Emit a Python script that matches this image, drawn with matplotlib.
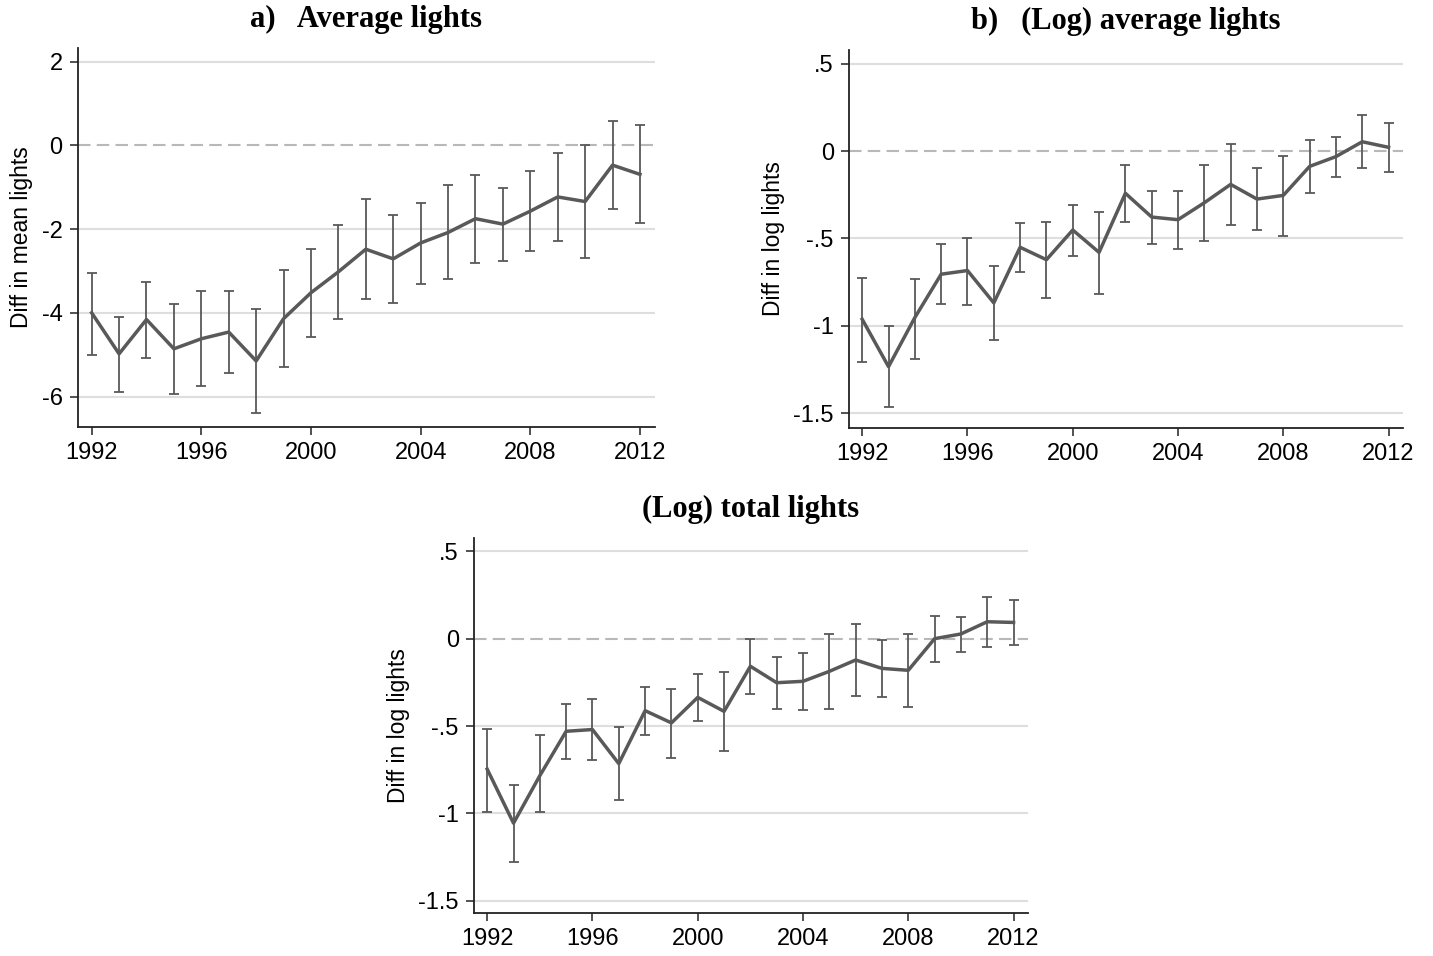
import matplotlib
matplotlib.use("Agg")
import matplotlib.pyplot as plt
import numpy as np

plt.rcParams['font.family'] = ['Liberation Sans', 'DejaVu Sans']

years = list(range(1992, 2013))

# a) average lights
avg_est = [-4.00, -4.98, -4.16, -4.86, -4.62, -4.46, -5.15, -4.14, -3.52, -3.02, -2.48,
           -2.71, -2.33, -2.08, -1.75, -1.88, -1.57, -1.23, -1.34, -0.47, -0.69]
avg_hi = [-3.05, -4.09, -3.26, -3.78, -3.49, -3.49, -3.90, -2.98, -2.47, -1.90, -1.28,
          -1.66, -1.37, -0.94, -0.70, -1.01, -0.62, -0.18, 0.02, 0.58, 0.50]
avg_lo = [-5.00, -5.90, -5.07, -5.94, -5.75, -5.44, -6.39, -5.30, -4.58, -4.14, -3.68,
          -3.76, -3.30, -3.19, -2.81, -2.75, -2.52, -2.29, -2.70, -1.51, -1.86]

# b) (log) average lights
logavg_est = [-0.963, -1.234, -0.953, -0.705, -0.684, -0.869, -0.551, -0.622, -0.452, -0.580, -0.242,
              -0.378, -0.393, -0.296, -0.191, -0.275, -0.254, -0.088, -0.032, 0.053, 0.021]
logavg_hi = [-0.725, -1.000, -0.734, -0.534, -0.496, -0.660, -0.414, -0.406, -0.307, -0.349, -0.078,
             -0.227, -0.229, -0.080, 0.042, -0.097, -0.027, 0.063, 0.082, 0.204, 0.160]
logavg_lo = [-1.207, -1.464, -1.188, -0.877, -0.881, -1.079, -0.694, -0.839, -0.602, -0.816, -0.408,
             -0.532, -0.559, -0.517, -0.423, -0.452, -0.486, -0.242, -0.147, -0.099, -0.120]

# (log) total lights
logtot_est = [-0.747, -1.056, -0.784, -0.530, -0.520, -0.715, -0.412, -0.482, -0.336, -0.416, -0.158,
              -0.252, -0.244, -0.187, -0.122, -0.170, -0.181, 0.000, 0.027, 0.097, 0.093]
logtot_hi = [-0.517, -0.837, -0.553, -0.374, -0.347, -0.507, -0.275, -0.286, -0.202, -0.193, 0.000,
             -0.103, -0.082, 0.025, 0.086, -0.010, 0.025, 0.132, 0.126, 0.236, 0.219]
logtot_lo = [-0.990, -1.276, -0.990, -0.690, -0.696, -0.925, -0.553, -0.681, -0.471, -0.641, -0.315,
             -0.402, -0.408, -0.402, -0.330, -0.332, -0.391, -0.135, -0.076, -0.046, -0.034]

xticks = [1992, 1996, 2000, 2004, 2008, 2012]

line_col = '#595959'
grid_col = '#dedede'


def draw_panel(ax, est, lo, hi, yticks, yticklabels, ylim, ylabel, title):
    est = np.array(est)
    err = [est - np.array(lo), np.array(hi) - est]
    for t in yticks:
        if t == 0:
            ax.axhline(0, color='#b8b8b8', lw=1.5, ls=(0, (6, 3)), zorder=1)
        else:
            ax.axhline(t, color=grid_col, lw=1.5, zorder=1)
    ax.errorbar(years, est, yerr=err, fmt='none', ecolor=line_col, elinewidth=1.3,
                capsize=3.6, capthick=1.3, zorder=2)
    ax.plot(years, est, color=line_col, lw=2.5, zorder=3)
    ax.set_xlim(1991.5, 2012.55)
    ax.set_ylim(*ylim)
    ax.set_xticks(xticks)
    ax.set_xticklabels([str(x) for x in xticks])
    ax.set_yticks(yticks)
    ax.set_yticklabels(yticklabels)
    ax.tick_params(direction='out', length=6, width=1.2, color='#333333', labelsize=17,
                   pad=5)
    for s in ['top', 'right']:
        ax.spines[s].set_visible(False)
    for s in ['left', 'bottom']:
        ax.spines[s].set_linewidth(1.3)
        ax.spines[s].set_color('#222222')
    ax.set_ylabel(ylabel, fontsize=16.5, labelpad=6)
    ax.set_title(title, fontsize=22, fontweight='bold', family='Liberation Serif', pad=15)


fig = plt.figure(figsize=(14.33, 9.56), dpi=100)

ax1 = fig.add_axes([0.0544, 0.5533, 0.4027, 0.3965])
draw_panel(ax1, avg_est, avg_lo, avg_hi, [2, 0, -2, -4, -6], ['2', '0', '-2', '-4', '-6'],
           (-6.73, 2.33), 'Diff in mean lights', 'a)   Average lights')

ax2 = fig.add_axes([0.5925, 0.5523, 0.3866, 0.3954])
draw_panel(ax2, logavg_est, logavg_lo, logavg_hi, [0.5, 0, -0.5, -1, -1.5],
           ['.5', '0', '-.5', '-1', '-1.5'], (-1.585, 0.578), 'Diff in log lights',
           'b)   (Log) average lights')

ax3 = fig.add_axes([0.3308, 0.045, 0.3866, 0.392])
draw_panel(ax3, logtot_est, logtot_lo, logtot_hi, [0.5, 0, -0.5, -1, -1.5],
           ['.5', '0', '-.5', '-1', '-1.5'], (-1.57, 0.575), 'Diff in log lights',
           '(Log) total lights')

fig.savefig('out.png', dpi=100)
